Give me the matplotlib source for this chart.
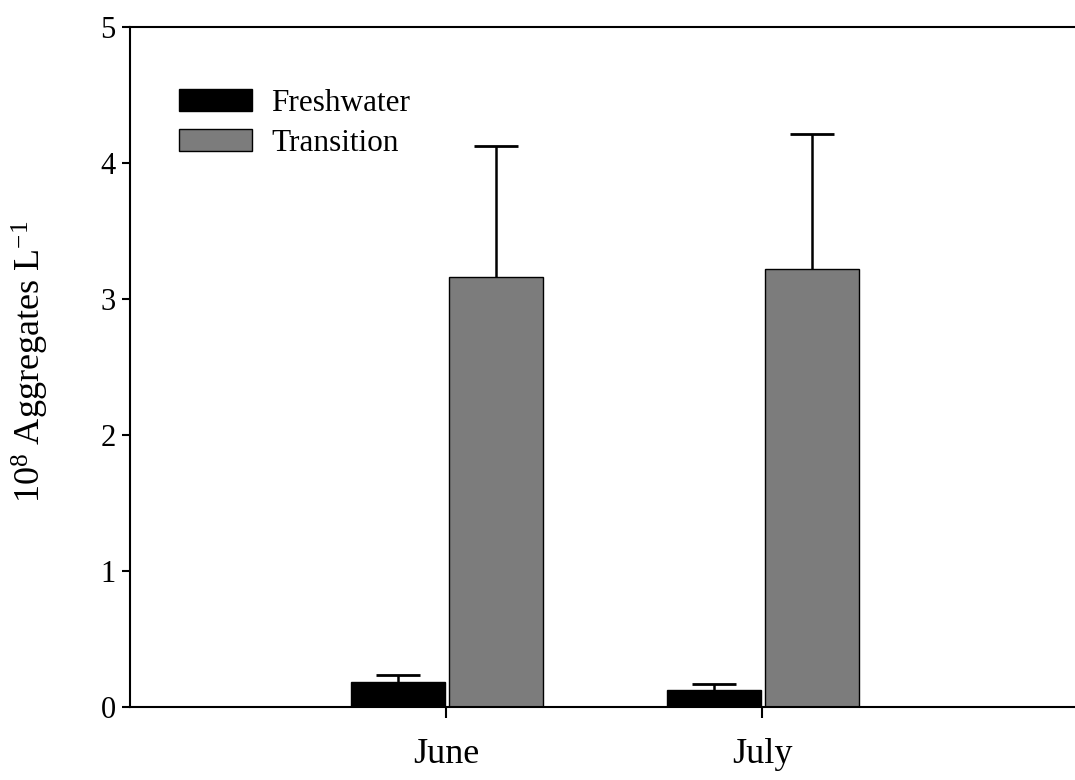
import matplotlib
matplotlib.use("Agg")
import matplotlib.pyplot as plt
import numpy as np

# Data
months = ["June", "July"]
freshwater = [0.186, 0.125]
freshwater_err = [0.05, 0.045]
transition = [3.16, 3.22]
transition_err = [0.965, 0.99]
yticks = [0, 1, 2, 3, 4, 5]

plt.rcParams["font.family"] = ["Liberation Serif", "DejaVu Serif"]
plt.rcParams["mathtext.fontset"] = "custom"
plt.rcParams["mathtext.rm"] = "Liberation Serif"
plt.rcParams["mathtext.it"] = "Liberation Serif:italic"

fig = plt.figure(figsize=(10.75, 7.8), dpi=100)
ax = fig.add_axes([130/1075, 1-707/780, 1-130/1075, (707-27)/780])

pos = np.array([1.0, 2.0])
w = 0.298
ax.bar(pos - 0.152, freshwater, width=w, color="black", edgecolor="black",
       linewidth=1.0, label="Freshwater", zorder=2)
ax.bar(pos + 0.158, transition, width=w, color="#7c7c7c", edgecolor="black",
       linewidth=1.0, label="Transition", zorder=2)

ekw = dict(fmt="none", ecolor="black", elinewidth=1.8, capsize=16, capthick=2.0, zorder=3)
eb1 = ax.errorbar(pos - 0.152, freshwater, yerr=[np.zeros(2), freshwater_err], **ekw)
eb2 = ax.errorbar(pos + 0.158, transition, yerr=[np.zeros(2), transition_err], **ekw)
# show only the upper caps
for eb in (eb1, eb2):
    eb[1][0].set_visible(False)

ax.set_xlim(0, 2.99)
ax.set_ylim(0, 5)
ax.set_xticks(pos)
ax.set_xticklabels(months)
ax.set_yticks(yticks)
ax.set_yticklabels([str(t) for t in yticks])

ax.spines["right"].set_visible(False)
for s in ["left", "bottom", "top"]:
    ax.spines[s].set_linewidth(1.5)
    ax.spines[s].set_color("black")

ax.tick_params(axis="x", direction="out", length=8, width=1.5, pad=14, labelsize=26)
ax.tick_params(axis="y", direction="out", length=5.8, width=1.5, pad=4.5, labelsize=22)

fig.text(30/1075, 1-362/780, r"$10^{8}$ Aggregates L$^{-1}$", rotation=90,
         ha="center", va="center", fontsize=26)

leg = ax.legend(loc="upper left", bbox_to_anchor=((179-130)/945, (707-89)/680),
                frameon=False, borderpad=0, borderaxespad=0, fontsize=22.5,
                handlelength=2.35, handleheight=0.7, handletextpad=0.6,
                labelspacing=0.34)

fig.savefig("out.png", dpi=100)
